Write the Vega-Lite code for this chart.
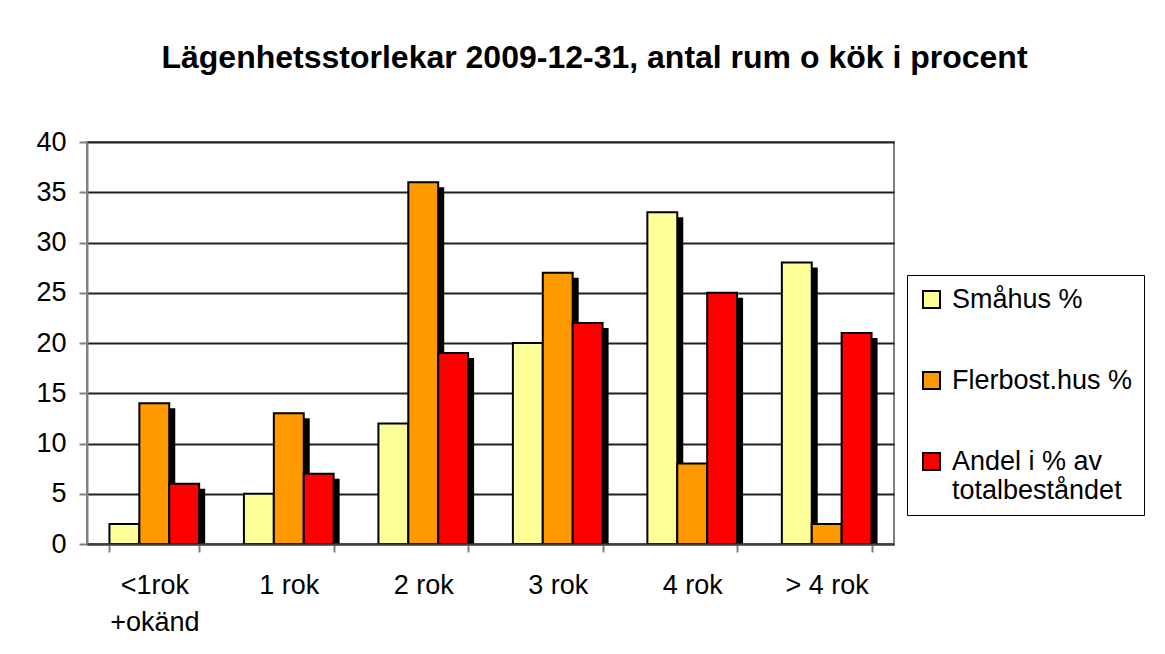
{
  "$schema": "https://vega.github.io/schema/vega-lite/v6.json",
  "width": 807,
  "height": 402,
  "autosize": {"type": "none"},
  "padding": {"left": 87, "top": 142, "right": 271, "bottom": 110},
  "background": "white",
  "title": {
    "text": "Lägenhetsstorlekar 2009-12-31, antal rum o kök i procent",
    "font": "Liberation Sans",
    "fontSize": 32,
    "fontWeight": "bold",
    "color": "black",
    "anchor": "middle",
    "dx": 104,
    "offset": 53
  },
  "config": {
    "view": {"stroke": "#808080", "strokeWidth": 2},
    "font": "Liberation Sans"
  },
  "data": {
    "values": [
      {"kategori": "<1rok +okänd", "serie": "Småhus %", "varde": 2},
      {"kategori": "<1rok +okänd", "serie": "Flerbost.hus %", "varde": 14},
      {"kategori": "<1rok +okänd", "serie": "Andel i % av totalbeståndet", "varde": 6},
      {"kategori": "1 rok", "serie": "Småhus %", "varde": 5},
      {"kategori": "1 rok", "serie": "Flerbost.hus %", "varde": 13},
      {"kategori": "1 rok", "serie": "Andel i % av totalbeståndet", "varde": 7},
      {"kategori": "2 rok", "serie": "Småhus %", "varde": 12},
      {"kategori": "2 rok", "serie": "Flerbost.hus %", "varde": 36},
      {"kategori": "2 rok", "serie": "Andel i % av totalbeståndet", "varde": 19},
      {"kategori": "3 rok", "serie": "Småhus %", "varde": 20},
      {"kategori": "3 rok", "serie": "Flerbost.hus %", "varde": 27},
      {"kategori": "3 rok", "serie": "Andel i % av totalbeståndet", "varde": 22},
      {"kategori": "4 rok", "serie": "Småhus %", "varde": 33},
      {"kategori": "4 rok", "serie": "Flerbost.hus %", "varde": 8},
      {"kategori": "4 rok", "serie": "Andel i % av totalbeståndet", "varde": 25},
      {"kategori": "> 4 rok", "serie": "Småhus %", "varde": 28},
      {"kategori": "> 4 rok", "serie": "Flerbost.hus %", "varde": 2},
      {"kategori": "> 4 rok", "serie": "Andel i % av totalbeståndet", "varde": 21}
    ]
  },
  "encoding": {
    "x": {
      "field": "kategori",
      "type": "nominal",
      "sort": null,
      "scale": {"paddingInner": 0.333, "paddingOuter": 0.167},
      "axis": {
        "title": null,
        "labelAngle": 0,
        "labelFontSize": 27,
        "labelColor": "black",
        "labelPadding": 20,
        "labelLineHeight": 37,
        "labelExpr": "datum.label == '<1rok +okänd' ? ['<1rok', '+okänd'] : datum.label",
        "tickBand": "extent",
        "tickSize": 8,
        "tickColor": "#808080",
        "tickWidth": 2,
        "domainColor": "#404040",
        "domainWidth": 2,
        "grid": false,
        "zindex": 1
      }
    },
    "y": {
      "field": "varde",
      "type": "quantitative",
      "scale": {"domain": [0, 40], "nice": false},
      "axis": {
        "title": null,
        "values": [0, 5, 10, 15, 20, 25, 30, 35, 40],
        "labelFontSize": 27,
        "labelColor": "black",
        "labelPadding": 13,
        "tickSize": 8,
        "tickColor": "#808080",
        "tickWidth": 2,
        "domainColor": "#808080",
        "domainWidth": 2,
        "gridColor": "#202020",
        "gridWidth": 2,
        "gridOpacity": 1
      }
    }
  },
  "resolve": {"scale": {"xOffset": "independent"}},
  "layer": [
    {
      "mark": {"type": "bar", "color": "black", "yOffset": 5, "y2Offset": 0},
      "encoding": {
        "y2": {"datum": 0},
        "xOffset": {
          "field": "serie",
          "type": "nominal",
          "sort": ["Småhus %", "Flerbost.hus %", "Andel i % av totalbeståndet"],
          "scale": {"paddingInner": 0, "paddingOuter": 0, "range": [6, 95.7]}
        }
      }
    },
    {
      "mark": {"type": "bar", "stroke": "black", "strokeWidth": 2},
      "encoding": {
        "xOffset": {
          "field": "serie",
          "type": "nominal",
          "sort": ["Småhus %", "Flerbost.hus %", "Andel i % av totalbeståndet"],
          "scale": {"paddingInner": 0, "paddingOuter": 0, "range": [0, 89.7]}
        },
        "color": {
          "field": "serie",
          "type": "nominal",
          "sort": ["Småhus %", "Flerbost.hus %", "Andel i % av totalbeståndet"],
          "scale": {
            "domain": ["Småhus %", "Flerbost.hus %", "Andel i % av totalbeståndet"],
            "range": ["#ffff99", "#ff9900", "#ff0000"]
          },
          "legend": {
            "title": null,
            "orient": "none",
            "legendX": 820,
            "legendY": 133,
            "symbolType": "square",
            "symbolSize": 289,
            "symbolStrokeColor": "black",
            "symbolStrokeWidth": 2,
            "symbolOffset": 0,
            "labelOffset": 7,
            "labelFontSize": 27,
            "labelColor": "black",
            "labelLimit": 400,
            "labelLineHeight": 33,
            "labelExpr": "datum.label == 'Andel i % av totalbeståndet' ? ['Andel i % av', 'totalbeståndet'] : datum.label",
            "rowPadding": 53,
            "padding": 11,
            "strokeColor": "black",
            "fillColor": "white"
          }
        }
      }
    }
  ]
}
